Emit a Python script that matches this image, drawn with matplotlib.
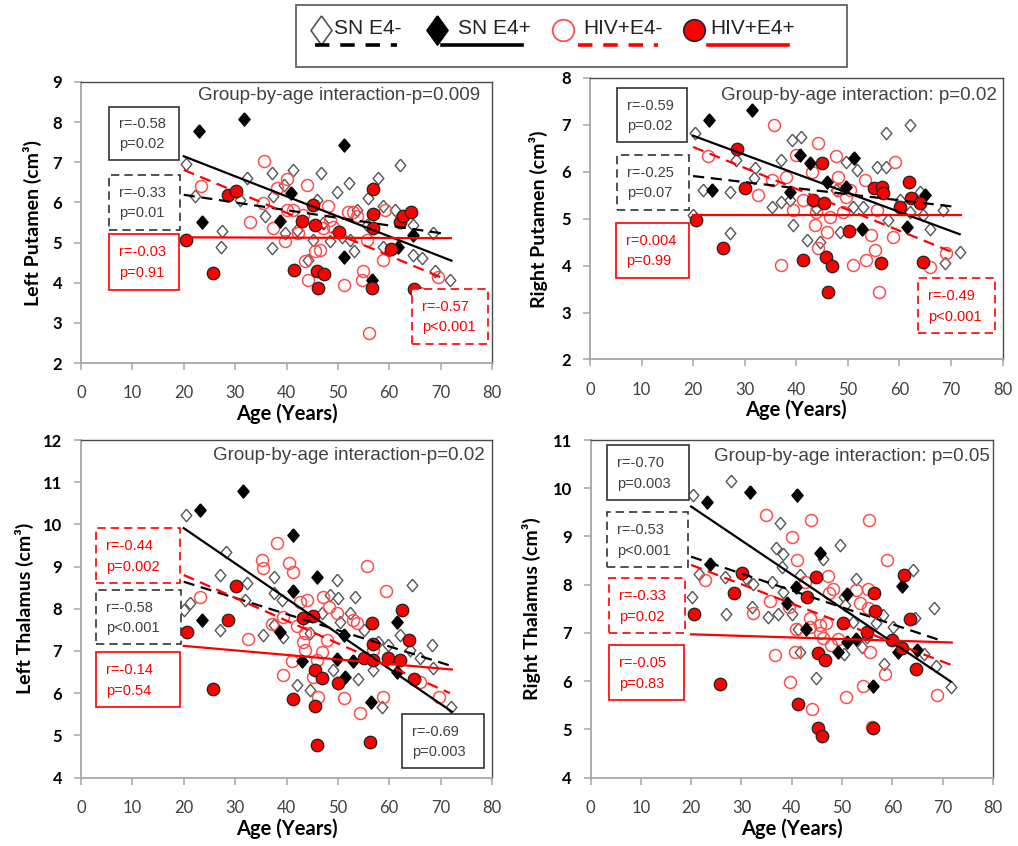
import matplotlib
matplotlib.use("Agg")
import matplotlib.pyplot as plt
from matplotlib.patches import Rectangle
from matplotlib.lines import Line2D

W, H = 1018, 846

# ------------------------------------------------------------------ data
groups = ["SN E4-", "SN E4+", "HIV+E4-", "HIV+E4+"]

# Left Putamen
lp_sn_neg_age = [20.4,22.1,32.3,31.0,37.1,41.2,39.5,46.8,52.2,57.9,62.1,49.8,55.9,35.9,37.4,39.7,27.4,27.2,37.1,48.5,
                 50.9,53.2,53.7,55.6,58.8,61.1,64.7,68.6,58.8,64.7,66.3,68.9,71.8,44.2,45.9,45.2,52.4,42.0,47.2]
lp_sn_neg_vol = [6.96,6.15,6.60,6.07,6.73,6.81,6.44,6.73,6.48,6.61,6.94,6.27,6.11,5.65,6.15,5.23,5.28,4.90,4.86,5.03,
                 5.15,4.78,5.82,5.44,5.90,5.82,5.44,5.23,4.90,4.69,4.61,4.28,4.07,4.57,6.07,5.07,5.07,5.32,5.48]
lp_sn_pos_age = [23.0,31.7,51.2,23.6,38.8,40.9,51.1,56.6,61.8,64.7]
lp_sn_pos_vol = [7.79,8.08,7.42,5.51,5.54,6.23,4.65,4.07,4.88,5.19]
lp_hiv_neg_age = [35.7,23.3,40.0,38.1,43.9,35.5,32.9,37.4,40.0,39.7,41.2,43.3,43.6,45.5,46.5,44.2,48.1,48.5,49.1,51.1,
                  52.0,53.7,54.9,54.6,55.6,58.8,59.2,56.1,66.0,69.5,53.0,42.3,47.2]
lp_hiv_neg_vol = [7.04,6.40,6.58,6.36,6.44,5.98,5.52,5.36,5.82,5.03,5.82,5.69,4.53,4.78,4.82,4.07,5.90,5.57,5.40,3.95,
                  5.77,5.65,4.28,4.07,5.07,4.57,5.82,2.74,3.74,4.15,5.77,5.23,5.36]
lp_hiv_pos_age = [20.4,25.6,28.7,30.1,41.5,43.1,45.2,45.5,45.9,47.3,46.2,50.3,56.8,56.8,56.9,56.6,60.3,62.1,62.6,64.2,64.8]
lp_hiv_pos_vol = [5.07,4.24,6.19,6.29,4.32,5.54,5.94,5.44,4.30,4.22,3.86,5.27,6.33,5.72,5.36,3.86,4.83,5.52,5.67,5.77,3.84]
# fitted lines: (age start, age end, vol start, vol end)
lp_fits = {"SN E4-": (20, 70.2, 6.19, 5.23), "SN E4+": (20, 72.1, 7.15, 4.55),
           "HIV+E4-": (20, 70.5, 6.81, 4.11), "HIV+E4+": (20, 72.0, 5.13, 5.11)}
lp_stats = {"SN E4+": ("r=-0.58", "p=0.02"), "SN E4-": ("r=-0.33", "p=0.01"),
            "HIV+E4+": ("r=-0.03", "p=0.91"), "HIV+E4-": ("r=-0.57", "p<0.001")}
lp_title = "Group-by-age interaction-p=0.009"

# Right Putamen
rp_sn_neg_age = [20.3,20.0,22.0,27.1,27.1,28.4,32.0,31.8,37.1,39.1,41.0,35.2,37.1,38.8,39.4,42.0,44.6,43.9,48.4,49.7,
                 51.7,55.6,57.5,57.5,62.0,51.0,53.0,57.8,62.0,64.6,65.9,68.5,68.8,71.7,60.1,64.0,47.8]
rp_sn_neg_vol = [6.82,5.08,5.61,4.69,5.58,6.25,6.08,5.86,6.25,6.68,6.75,5.26,5.36,5.40,4.87,4.54,4.51,5.22,4.72,6.22,
                 6.04,6.11,6.11,6.82,7.00,5.26,5.26,4.97,5.15,5.08,4.79,5.19,4.05,4.30,5.40,5.58,5.61]
rp_sn_pos_age = [23.1,31.5,23.6,40.7,42.6,45.9,51.2,38.8,52.7,61.4,64.9,49.7]
rp_sn_pos_vol = [7.11,7.32,5.61,6.36,6.18,5.79,6.29,5.58,4.79,4.83,5.51,5.68]
rp_hiv_neg_age = [35.7,22.9,44.3,39.9,47.8,43.0,48.1,53.3,59.1,35.2,38.1,32.6,41.3,39.4,43.9,46.5,49.1,50.4,43.6,45.9,
                  44.3,37.1,51.0,53.6,55.2,54.5,58.8,56.1,65.9,69.1,55.6,48.1,49.7]
rp_hiv_neg_vol = [6.99,6.34,6.62,6.36,6.34,6.00,5.90,5.83,6.22,5.83,5.90,5.51,5.40,5.18,5.15,5.04,5.15,5.61,4.87,4.72,
                  4.37,4.01,4.01,4.12,4.33,4.65,4.62,3.43,3.97,4.27,5.18,5.61,5.47]
rp_hiv_pos_age = [20.5,25.7,28.6,30.0,41.3,43.2,44.9,45.4,45.7,47.0,46.1,50.3,55.0,56.7,56.8,56.5,61.9,60.2,62.3,64.0,64.6]
rp_hiv_pos_vol = [4.97,4.38,6.48,5.65,4.12,5.40,6.18,5.33,4.19,3.99,3.43,4.74,5.65,5.68,5.54,4.06,5.79,5.24,5.45,5.34,4.07]
rp_fits = {"SN E4-": (20, 70.4, 5.91, 5.26), "SN E4+": (20, 71.7, 6.77, 4.67),
           "HIV+E4-": (20, 70.0, 6.53, 4.30), "HIV+E4+": (20, 72.0, 5.08, 5.08)}
rp_stats = {"SN E4+": ("r=-0.59", "p=0.02"), "SN E4-": ("r=-0.25", "p=0.07"),
            "HIV+E4+": ("r=0.004", "p=0.99"), "HIV+E4-": ("r=-0.49", "p<0.001")}
rp_title = "Group-by-age interaction: p=0.02"

# Left Thalamus
lt_sn_neg_age = [20.5,28.2,20.0,21.2,27.1,32.3,27.1,31.9,37.5,37.5,39.1,35.5,37.5,39.3,42.0,44.6,49.8,48.5,50.1,53.3,
                 52.4,50.4,55.0,56.9,54.0,57.9,59.8,62.1,64.4,66.0,68.3,68.6,72.1,58.5,46.9,44.6,49.1,64.0]
lt_sn_neg_vol = [10.22,9.35,7.97,8.13,8.80,8.60,7.50,8.21,8.76,8.37,8.21,7.38,7.62,7.34,6.19,6.08,8.68,8.33,8.25,8.29,
                 7.89,7.69,7.50,6.55,6.33,7.22,7.14,7.38,8.56,6.83,7.14,6.59,5.68,5.68,7.89,7.42,6.55,7.02]
lt_sn_pos_age = [23.2,31.6,41.2,23.5,41.2,45.9,38.8,43.0,49.8,51.4,53.0,56.4,61.5,61.5,51.1]
lt_sn_pos_vol = [10.34,10.80,9.76,7.73,8.43,8.76,7.46,6.75,6.80,6.39,6.75,5.78,7.69,6.51,7.38]
lt_hiv_neg_age = [38.1,35.2,35.5,40.4,41.2,55.6,59.4,23.2,32.6,37.1,39.4,42.6,43.9,42.0,43.6,43.3,43.6,47.2,48.2,49.8,
                  53.0,53.8,46.9,45.9,41.0,39.4,45.2,46.2,51.1,54.3,58.7,66.0,69.6,56.9,47.8]
lt_hiv_neg_vol = [9.57,9.16,8.96,9.08,8.86,9.01,8.42,8.29,7.28,7.65,7.81,8.17,8.21,7.58,7.42,7.22,7.02,8.29,8.05,7.91,
                  7.73,7.67,6.98,6.79,6.75,6.43,6.39,5.92,5.88,5.52,5.90,6.27,5.92,7.02,7.26]
lt_hiv_pos_age = [20.6,25.7,28.7,30.2,41.2,43.2,45.2,45.6,45.6,46.9,46.0,50.1,55.0,56.6,56.8,56.8,56.3,59.8,62.1,62.4,63.9,64.8]
lt_hiv_pos_vol = [7.46,6.09,7.73,8.55,5.85,7.77,7.83,6.55,5.70,6.35,4.77,6.23,6.83,7.66,7.17,6.79,4.83,6.83,6.79,7.96,7.26,6.33]
lt_fits = {"SN E4-": (20, 72.2, 8.64, 6.64), "SN E4+": (20, 72.2, 9.91, 5.56),
           "HIV+E4-": (20, 71.8, 8.80, 6.00), "HIV+E4+": (20, 72.2, 7.12, 6.56)}
lt_stats = {"HIV+E4-": ("r=-0.44", "p=0.002"), "SN E4-": ("r=-0.58", "p<0.001"),
            "HIV+E4+": ("r=-0.14", "p=0.54"), "SN E4+": ("r=-0.69", "p=0.003")}
lt_title = "Group-by-age interaction-p=0.02"

# Right Thalamus
rt_sn_neg_age = [20.3,28.0,37.7,36.8,38.3,38.0,21.5,20.1,26.7,26.9,31.0,32.3,36.0,32.0,35.3,37.3,38.3,40.0,41.7,46.2,
                 49.6,52.8,50.3,50.6,41.2,41.7,44.9,50.3,52.2,53.9,54.9,56.8,58.1,60.1,58.3,64.1,64.4,66.2,68.2,68.6,71.6]
rt_sn_neg_vol = [9.86,10.14,9.28,8.75,8.63,8.37,8.23,7.75,8.15,7.40,8.13,8.01,8.06,7.54,7.33,7.40,7.85,7.40,8.20,8.54,
                 8.82,8.11,7.75,7.58,7.09,6.61,6.06,6.57,7.23,6.71,6.92,7.20,7.37,7.13,6.35,8.30,7.30,6.57,7.51,6.31,5.87]
rt_sn_pos_age = [23.1,31.7,41.1,23.7,45.6,40.9,42.8,51.0,49.2,50.9,52.8,56.2,61.9,61.2,64.8,39.0]
rt_sn_pos_vol = [9.72,9.93,9.86,8.43,8.65,7.96,7.07,7.80,6.61,6.82,6.88,5.90,7.97,6.61,6.64,7.61]
rt_hiv_neg_age = [34.9,43.8,55.4,40.0,41.0,59.0,22.7,32.3,35.6,39.5,42.6,47.2,48.2,47.4,52.8,55.2,53.6,55.2,43.6,43.6,
                  45.6,46.9,40.9,45.6,46.3,49.2,47.9,36.7,40.6,55.5,39.6,44.1,50.8,54.1,58.5,68.9,55.9]
rt_hiv_neg_vol = [9.44,9.34,9.34,8.98,8.52,8.51,8.10,7.42,7.66,7.54,8.06,8.18,7.92,7.82,7.89,7.92,7.61,7.51,7.30,7.13,
                  7.16,7.20,7.09,7.00,6.90,6.88,6.75,6.54,6.61,6.61,5.99,5.43,5.66,5.90,6.14,5.71,5.05]
rt_hiv_pos_age = [20.6,25.8,28.5,30.1,41.2,43.1,44.9,45.3,46.7,45.3,46.1,50.1,54.9,56.4,56.6,56.2,60.0,61.9,62.4,63.6,64.6]
rt_hiv_pos_vol = [7.40,5.93,7.83,8.25,5.52,7.75,8.16,6.59,6.44,5.02,4.86,7.20,7.02,7.82,7.46,5.02,6.85,6.68,8.20,7.28,6.25]
rt_fits = {"SN E4-": (20, 69.4, 8.58, 6.85), "SN E4+": (20, 71.6, 9.62, 5.99),
           "HIV+E4-": (20, 71.8, 8.41, 6.33), "HIV+E4+": (20, 71.8, 6.97, 6.80)}
rt_stats = {"SN E4+": ("r=-0.70", "p=0.003"), "SN E4-": ("r=-0.53", "p<0.001"),
            "HIV+E4-": ("r=-0.33", "p=0.02"), "HIV+E4+": ("r=-0.05", "p=0.83")}
rt_title = "Group-by-age interaction: p=0.05"

x_ticks = [0, 10, 20, 30, 40, 50, 60, 70, 80]
x_label = "Age (Years)"

# ------------------------------------------------------------------ styles
RED = "#ff0000"
DARK = "#404040"
DIAMOND = [(0, 1), (0.85, 0), (0, -1), (-0.85, 0), (0, 1)]
STY = {
    "SN E4-": dict(marker=DIAMOND, ms=9.0, mfc="white", mec="#555555", mew=1.0, z=3,
                   lc="black", ls=(0, (5, 3))),
    "SN E4+": dict(marker=DIAMOND, ms=9.5, mfc="black", mec="black", mew=1.0, z=4,
                   lc="black", ls="-"),
    "HIV+E4-": dict(marker="o", ms=8.6, mfc="none", mec="#ff4d4d", mew=1.1, z=3.5,
                    lc=RED, ls=(0, (5, 3))),
    "HIV+E4+": dict(marker="o", ms=9.0, mfc=RED, mec="#222222", mew=0.9, z=5,
                    lc=RED, ls="-"),
}
BOX_STYLE = {"SN E4+": ("#333333", "-", DARK), "SN E4-": ("#333333", (0, (5, 3)), DARK),
             "HIV+E4+": (RED, "-", RED), "HIV+E4-": (RED, (0, (5, 3)), RED)}

fig = plt.figure(figsize=(W / 100, H / 100), dpi=100)
fig.patch.set_facecolor("white")


def fx(px):
    return px / W


def fy(py):
    return 1 - py / H


panels = [
    dict(rect=(81, 82, 492, 363), ylim=(2, 9), ylabel="Left Putamen (cm³)", ylab_x=34,
         data={"SN E4-": (lp_sn_neg_age, lp_sn_neg_vol), "SN E4+": (lp_sn_pos_age, lp_sn_pos_vol),
               "HIV+E4-": (lp_hiv_neg_age, lp_hiv_neg_vol), "HIV+E4+": (lp_hiv_pos_age, lp_hiv_pos_vol)},
         fits=lp_fits, stats=lp_stats, title=lp_title, title_pos=(480, 95), xlab_y=414,
         boxes={"SN E4+": (109, 107, 179, 160), "SN E4-": (109, 175, 180, 230),
                "HIV+E4+": (109, 234, 179, 290), "HIV+E4-": (412, 289, 488, 344)}),
    dict(rect=(590, 78, 1002.5, 359.5), ylim=(2, 8), ylabel="Right Putamen (cm³)", ylab_x=540,
         data={"SN E4-": (rp_sn_neg_age, rp_sn_neg_vol), "SN E4+": (rp_sn_pos_age, rp_sn_pos_vol),
               "HIV+E4-": (rp_hiv_neg_age, rp_hiv_neg_vol), "HIV+E4+": (rp_hiv_pos_age, rp_hiv_pos_vol)},
         fits=rp_fits, stats=rp_stats, title=rp_title, title_pos=(997, 95), xlab_y=410,
         boxes={"SN E4+": (617, 88, 687, 142), "SN E4-": (617, 155, 689, 210),
                "HIV+E4+": (616, 223, 689, 278), "HIV+E4-": (918, 278, 995, 333)}),
    dict(rect=(81, 440, 492, 777.5), ylim=(4, 12), ylabel="Left Thalamus (cm³)", ylab_x=26,
         data={"SN E4-": (lt_sn_neg_age, lt_sn_neg_vol), "SN E4+": (lt_sn_pos_age, lt_sn_pos_vol),
               "HIV+E4-": (lt_hiv_neg_age, lt_hiv_neg_vol), "HIV+E4+": (lt_hiv_pos_age, lt_hiv_pos_vol)},
         fits=lt_fits, stats=lt_stats, title=lt_title, title_pos=(485, 455), xlab_y=829,
         boxes={"HIV+E4-": (96, 528, 180, 583), "SN E4-": (96, 590, 181, 644),
                "HIV+E4+": (96, 652, 180, 707), "SN E4+": (402, 714, 484, 768)}),
    dict(rect=(590.5, 440, 993, 777.5), ylim=(4, 11), ylabel="Right Thalamus (cm³)", ylab_x=533,
         data={"SN E4-": (rt_sn_neg_age, rt_sn_neg_vol), "SN E4+": (rt_sn_pos_age, rt_sn_pos_vol),
               "HIV+E4-": (rt_hiv_neg_age, rt_hiv_neg_vol), "HIV+E4+": (rt_hiv_pos_age, rt_hiv_pos_vol)},
         fits=rt_fits, stats=rt_stats, title=rt_title, title_pos=(990, 456), xlab_y=829,
         boxes={"SN E4+": (607, 445, 689, 500), "SN E4-": (607, 512, 688, 567),
                "HIV+E4-": (609, 578, 685, 633), "HIV+E4+": (609, 645, 684, 700)}),
]

for p in panels:
    l, t, r, b = p["rect"]
    ax = fig.add_axes([fx(l), fy(b), (r - l) / W, (b - t) / H])
    ax.set_xlim(0, 80)
    ax.set_ylim(*p["ylim"])
    ax.set_xticks(x_ticks)
    ax.set_yticks(range(p["ylim"][0], p["ylim"][1] + 1))
    for g in groups:
        s = STY[g]
        ages, vols = p["data"][g]
        ax.plot(ages, vols, linestyle="none", marker=s["marker"], ms=s["ms"], mfc=s["mfc"],
                mec=s["mec"], mew=s["mew"], zorder=s["z"])
    for g in groups:
        s = STY[g]
        x0, x1, y0, y1 = p["fits"][g]
        ax.plot([x0, x1], [y0, y1], color=s["lc"], linestyle=s["ls"], lw=1.6, zorder=6)
    for side in ("left", "bottom"):
        ax.spines[side].set_color("#a6a6a6")
        ax.spines[side].set_linewidth(1.3)
    for side in ("top", "right"):
        ax.spines[side].set_color("#4a4a4a")
        ax.spines[side].set_linewidth(1.0)
    ax.tick_params(axis="both", direction="out", length=5, width=1.1, color="#a6a6a6")
    ax.tick_params(axis="x", labelsize=12, labelcolor="#404040", pad=11)
    ax.tick_params(axis="y", labelsize=12, labelcolor="black", pad=8.5)
    for lab in ax.get_xticklabels():
        lab.set_family("Lato")
    for lab in ax.get_yticklabels():
        lab.set_family("Lato")
        lab.set_fontweight("bold")
    ax.set_ylabel(p["ylabel"], fontsize=14, fontweight="bold", family="Lato")
    ax.yaxis.set_label_coords((p["ylab_x"] + 8 - l) / (r - l), 0.5)
    ax.set_xlabel(x_label, fontsize=14.5, fontweight="bold", family="Lato", va="center")
    ax.xaxis.set_label_coords(0.5, 1 - (p["xlab_y"] - t) / (b - t))

    # group-by-age interaction text
    fig.text(fx(p["title_pos"][0]), fy(p["title_pos"][1]), p["title"], ha="right", va="center",
             fontsize=13.5, color=DARK, family="Liberation Sans")
    # r / p boxes
    for g, (bx0, by0, bx1, by1) in p["boxes"].items():
        ec, ls, tc = BOX_STYLE[g]
        fig.add_artist(Rectangle((fx(bx0), fy(by1)), (bx1 - bx0) / W, (by1 - by0) / H,
                                 transform=fig.transFigure, facecolor="white", edgecolor=ec,
                                 linestyle=ls, linewidth=1.2, zorder=8))
        rt, pt = p["stats"][g]
        hgt = by1 - by0
        fig.text(fx(bx0 + 10), fy(by0 + 0.33 * hgt), rt, ha="left", va="center", fontsize=10.5,
                 color=tc, family="Liberation Sans", zorder=9)
        fig.text(fx(bx0 + 10), fy(by0 + 0.70 * hgt), pt, ha="left", va="center", fontsize=10.5,
                 color=tc, family="Liberation Sans", zorder=9)

# ------------------------------------------------------------------ legend (top)
fig.add_artist(Rectangle((fx(296), fy(67)), (847 - 296) / W, (67 - 5) / H, transform=fig.transFigure,
                         facecolor="white", edgecolor="#555555", linewidth=1.2, zorder=8))
LEG_DIAMOND = [(0, 1), (0.72, 0), (0, -1), (-0.72, 0), (0, 1)]
leg_marker = {
    "SN E4-": dict(marker=LEG_DIAMOND, ms=21, mfc="white", mec="#555555", mew=1.2),
    "SN E4+": dict(marker=LEG_DIAMOND, ms=21, mfc="black", mec="black", mew=1.2),
    "HIV+E4-": dict(marker="o", ms=15.5, mfc="white", mec="#ff4d4d", mew=1.3),
    "HIV+E4+": dict(marker="o", ms=15.5, mfc=RED, mec="#222222", mew=1.2),
}
leg_mx = [321, 437, 563, 694]
leg_tx = [334, 458, 583, 710]
leg_lx = [(315, 397), (442, 522), (578, 658), (708, 788)]
for g, mx, tx, (lx0, lx1) in zip(groups, leg_mx, leg_tx, leg_lx):
    m = leg_marker[g]
    fig.add_artist(Line2D([fx(mx)], [fy(30)], transform=fig.transFigure, linestyle="none",
                          marker=m["marker"], ms=m["ms"], mfc=m["mfc"], mec=m["mec"], mew=m["mew"], zorder=9))
    fig.text(fx(tx), fy(29), g, ha="left", va="center", fontsize=15, color="#222222",
             family="Liberation Sans", zorder=9)
    s = STY[g]
    fig.add_artist(Line2D([fx(lx0), fx(lx1)], [fy(45), fy(45)], transform=fig.transFigure,
                          color=s["lc"], linestyle=s["ls"] if s["ls"] == "-" else (0, (4, 3)),
                          lw=2.6, zorder=9))

fig.savefig("out.png", dpi=100, facecolor="white")
